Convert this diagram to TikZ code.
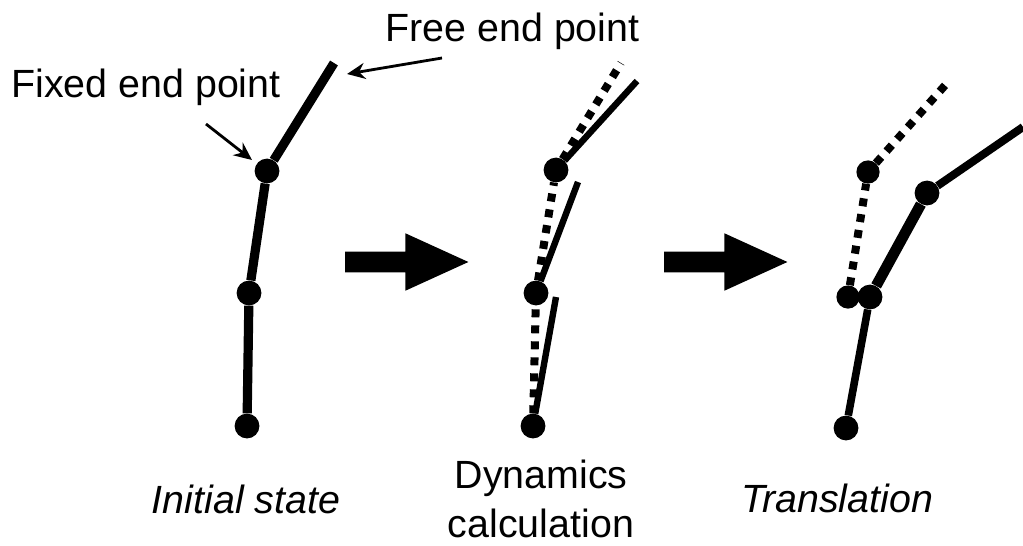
\documentclass[tikz,border=0pt]{standalone}
\usepackage{fontspec}
\setmainfont{Liberation Sans}
\usetikzlibrary{positioning,arrows.meta,shapes.arrows}

\tikzset{
  joint/.style={circle,fill=black,inner sep=0pt,minimum size=0.62cm},
  jointsmall/.style={circle,fill=black,inner sep=0pt,minimum size=0.58cm},
  link/.style={line width=0.23cm},
  linkthin/.style={line width=0.16cm},
  ghost/.style={line width=0.2cm,dash pattern=on 0.2cm off 0.2cm},
  pointer/.style={->,line width=0.07cm},
  blockarrow/.style={single arrow,fill=black,inner xsep=0pt,inner ysep=0.25cm,minimum height=3.08cm,single arrow head extend=0.46cm,single arrow tip angle=49},
  caption/.style={font=\fontsize{28}{35}\selectfont,align=center,inner sep=0pt}
}

\begin{document}
\begin{tikzpicture}[x=0.025cm,y=-0.025cm,>={Stealth[length=4.5mm,width=4mm]}]
\useasboundingbox (0,0) rectangle (1023,545);
% initial state
\node[joint] (a1) at (247,426) {};
\node[joint] (a2) at (249,293) {};
\node[joint] (a3) at (267,171) {};
\coordinate (a4) at (334,63);
\draw[link] (a1) -- (a2);
\draw[link] (a2) -- (a3);
\draw[link] (a3) -- (a4);
% dynamics
\node[joint] (b1) at (533,426) {};
\node[joint] (b2) at (536,293) {};
\node[joint] (b3) at (556,170) {};
\coordinate (b4) at (621,63);
\coordinate (c2) at (556,297);
\coordinate (c3) at (578,182);
\coordinate (c4) at (637,81);
\draw[ghost] (b1) -- (b2);
\draw[ghost] (b2) -- (b3);
\draw[ghost] (b3) -- (b4);
\draw[linkthin] (b1) -- (c2);
\draw[linkthin] (b2) -- (c3);
\draw[linkthin] (b3) -- (c4);
% translation
\node[jointsmall] (d2) at (848,297) {};
\node[jointsmall] (d3) at (868,172) {};
\coordinate (d4) at (948,82);
\draw[ghost] (d2) -- (d3);
\draw[ghost] (d3) -- (d4);
\node[joint] (e1) at (846,428) {};
\node[joint] (e2) at (870,297) {};
\node[joint] (e3) at (927,193) {};
\coordinate (e4) at (1023,127);
\draw[linkthin,line width=0.19cm] (e1) -- (e2);
\draw[link,line width=0.27cm] (e2) -- (e3);
\draw[link,line width=0.2cm] (e3) -- (e4);
% block arrows
\node[blockarrow] (step1) at (395.5,262) {};
\node[blockarrow] (step2) at (714.5,262) {};
% labels
\node[caption] (fixed) at (146,87) {Fixed end point};
\node[caption] (free) at (512.5,31) {Free end point};
\node[caption,font=\fontsize{28}{35}\selectfont\itshape] (init) at (246,499) {Initial state};
\node[caption] (dyn) at (541,499) {Dynamics\\calculation};
\node[caption,font=\fontsize{28}{35}\selectfont\itshape] (trans) at (837,498) {Translation};
\coordinate (p1) at (206,124);
\coordinate (p2) at (252,160);
\coordinate (q1) at (442,58);
\coordinate (q2) at (347,74);
\draw[pointer] (p1) -- (p2);
\draw[pointer] (q1) -- (q2);
\end{tikzpicture}
\end{document}
